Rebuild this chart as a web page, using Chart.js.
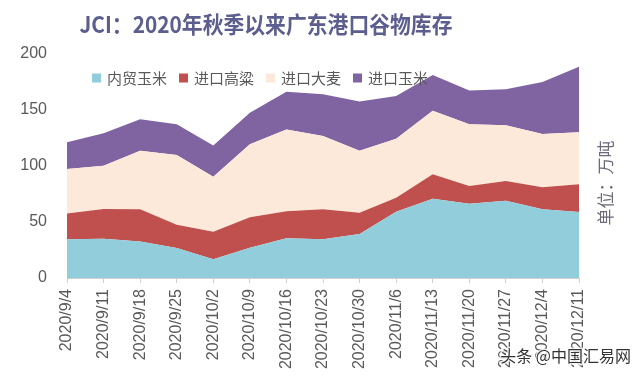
<!DOCTYPE html>
<html>
<head>
<meta charset="utf-8">
<script src="https://cdn.jsdelivr.net/npm/chart.js@4.4.1/dist/chart.umd.min.js"></script>
<style>
  html, body { margin: 0; padding: 0; background: #fff; }
  #wrap { width: 640px; height: 376px; position: relative; }
</style>
</head>
<body>
<div id="wrap"><canvas id="c" width="640" height="376"></canvas></div>
<script>
// weekly port stocks, 万吨
const labels = ['2020/9/4', '2020/9/11', '2020/9/18', '2020/9/25', '2020/10/2', '2020/10/9', '2020/10/16',
    '2020/10/23', '2020/10/30', '2020/11/6', '2020/11/13', '2020/11/20', '2020/11/27', '2020/12/4', '2020/12/11'];
const domesticCorn = [34.5, 35.1, 32.7, 26.8, 16.7, 27.1, 35.4, 34.5, 39.3, 59.2, 70.8, 66.4, 69.0, 61.3, 58.9];
const importSorghum = [23.2, 26.5, 28.6, 20.8, 24.7, 27.1, 24.1, 26.8, 19.0, 12.5, 21.8, 15.7, 17.6, 19.7, 24.7];
const importBarley = [39.6, 38.7, 52.4, 62.2, 49.1, 65.2, 73.2, 65.5, 55.4, 52.7, 56.8, 55.1, 49.7, 47.6, 46.5];
const importCorn = [23.8, 28.9, 28.0, 27.4, 27.7, 28.2, 33.7, 37.2, 44.0, 38.1, 31.9, 30.1, 32.2, 46.4, 58.6];
const seriesNames = ['内贸玉米', '进口高粱', '进口大麦', '进口玉米'];
const yTicks = [0, 50, 100, 150, 200];

const colors = ['#92cddc', '#c0504d', '#fde9d9', '#8064a2'];
const textColor = '#595959';

// title, legend and unit label are drawn by hand (legend sits inside the plot)
const decorations = {
    id: 'decorations',
    afterDraw(chart) {
        const ctx = chart.ctx;
        const title = 'JCI：2020年秋季以来广东港口谷物库存';
        ctx.save();
        ctx.fillStyle = '#5b5e8e';
        ctx.font = 'bold 23px "Noto Sans CJK SC"';
        ctx.textAlign = 'center';
        ctx.textBaseline = 'middle';
        // squeeze to the width seen in the original
        const sx = 373 / ctx.measureText(title).width;
        ctx.translate(266, 24);
        ctx.scale(sx, 1);
        ctx.fillText(title, 0, 0);
        ctx.restore();

        // legend
        ctx.save();
        ctx.font = '15px "Noto Sans CJK SC"';
        ctx.textAlign = 'left';
        ctx.textBaseline = 'middle';
        let x = 92;
        const y = 78;
        chart.data.datasets.forEach(ds => {
            ctx.fillStyle = ds.backgroundColor;
            ctx.fillRect(x, y - 4.5, 9, 9);
            ctx.fillStyle = textColor;
            ctx.fillText(ds.label, x + 15, y);
            x += 15 + ctx.measureText(ds.label).width + 12;
        });

        // unit
        ctx.translate(606, 183);
        ctx.rotate(-Math.PI / 2);
        ctx.textAlign = 'center';
        ctx.fillStyle = '#6a6a7a';
        ctx.font = '17px "Noto Sans CJK SC"';
        ctx.fillText('单位：万吨', 0, 0);
        ctx.restore();

        // watermark
        ctx.save();
        ctx.font = '16px "Noto Sans CJK SC"';
        ctx.textAlign = 'right';
        ctx.textBaseline = 'middle';
        ctx.lineWidth = 3;
        ctx.strokeStyle = 'rgba(255,255,255,0.8)';
        ctx.strokeText('头条 @中国汇易网', 631, 356);
        ctx.fillStyle = '#333';
        ctx.fillText('头条 @中国汇易网', 631, 356);
        ctx.restore();
    }
};

const values = [domesticCorn, importSorghum, importBarley, importCorn];

new Chart(document.getElementById('c').getContext('2d'), {
    type: 'line',
    data: {
        labels: labels,
        datasets: values.map((v, i) => ({
            label: seriesNames[i],
            data: v,
            backgroundColor: colors[i],
            borderColor: colors[i],
            borderWidth: 0,
            pointRadius: 0,
            tension: 0,
            fill: i === 0 ? 'origin' : '-1',
        })),
    },
    options: {
        responsive: false,
        animation: false,
        layout: { padding: { top: 54, right: 61, left: 0, bottom: 0 } },
        plugins: {
            legend: { display: false },
            title: { display: false },
            tooltip: { enabled: false },
        },
        scales: {
            x: {
                offset: false,
                grid: { display: true, drawOnChartArea: false, drawTicks: true, tickLength: 5, color: '#d0d0d0' },
                border: { display: true, color: '#d0d0d0' },
                ticks: {
                    autoSkip: false,
                    minRotation: 90,
                    maxRotation: 90,
                    padding: 6,
                    color: textColor,
                    font: { size: 16, family: '"Liberation Sans", Arial, sans-serif' },
                },
                afterFit(scale) { scale.height = 98; },
            },
            y: {
                stacked: true,
                min: 0,
                max: 200,
                afterBuildTicks(scale) { scale.ticks = yTicks.map(v => ({ value: v })); },
                grid: { display: false },
                border: { display: false },
                ticks: {
                    padding: 12,
                    color: textColor,
                    font: { size: 16, family: '"Liberation Sans", Arial, sans-serif' },
                },
                afterFit(scale) { scale.width = 67; },
            },
        },
    },
    plugins: [decorations],
});
</script>
</body>
</html>
